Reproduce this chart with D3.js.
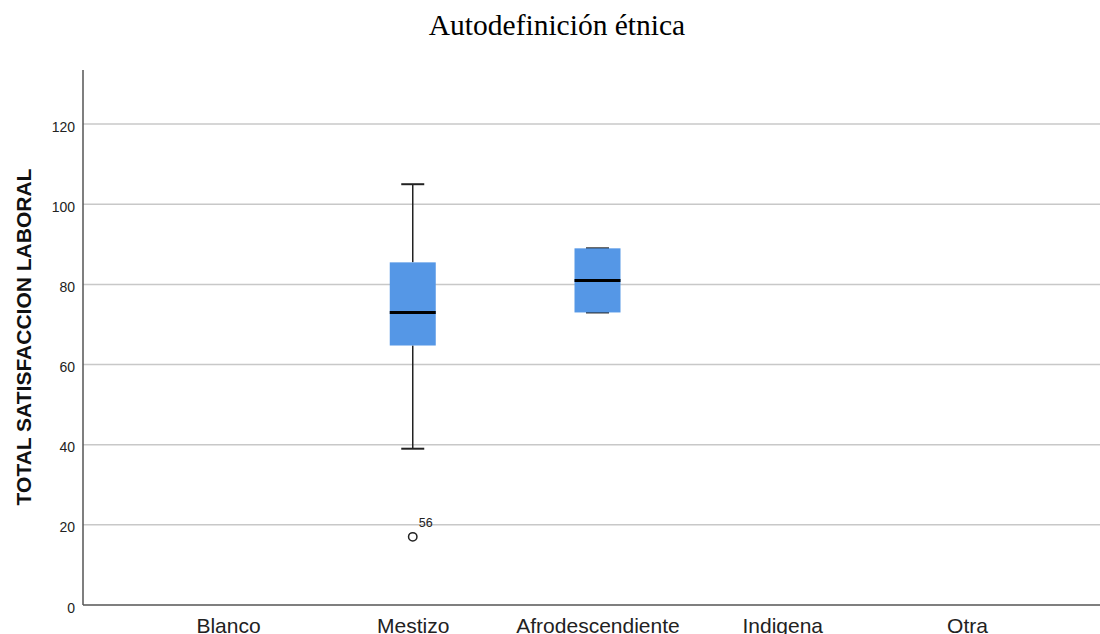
<!DOCTYPE html>
<html>
<head>
<meta charset="utf-8">
<script src="https://cdn.jsdelivr.net/npm/d3@7"></script>
<style>
  html, body { margin: 0; padding: 0; background: #fff; }
  svg { display: block; }
</style>
</head>
<body>
<svg id="chart" width="1100" height="634"></svg>
<script>
// Ethnic self-identification groups
const categories = ["Blanco", "Mestizo", "Afrodescendiente", "Indigena", "Otra"];
// Box statistics per group (null where the group has no data)
const whiskerLow  = [null, 39, 73, null, null];
const quartile1   = [null, 64.75, 73, null, null];
const medians     = [null, 73, 81, null, null];
const quartile3   = [null, 85.5, 89, null, null];
const whiskerHigh = [null, 105, 89, null, null];
// Outliers: group, value, case id
const outlierGroup = ["Mestizo"];
const outlierValue = [17];
const outlierCase  = ["56"];
const yTicks = [0, 20, 40, 60, 80, 100, 120];

(function drawChart() {
  const svg = d3.select("#chart");
  const plotLeft = 83, plotRight = 1100, plotTop = 70, plotBottom = 605;

  const y = d3.scaleLinear().domain([0, 133.5]).range([plotBottom, plotTop]);
  const x = d3.scalePoint().domain(categories).range([228, 967]);

  const boxW = 46, capW = 23;

  // Title
  svg.append("text")
    .attr("x", 557).attr("y", 34.5)
    .attr("text-anchor", "middle")
    .attr("font-family", "'Liberation Serif', 'Times New Roman', serif")
    .attr("font-size", 29.5)
    .attr("fill", "#000")
    .text("Autodefinición étnica");

  // Horizontal gridlines
  svg.append("g").selectAll("line")
    .data(yTicks.filter(t => t > 0))
    .join("line")
    .attr("x1", plotLeft).attr("x2", plotRight)
    .attr("y1", d => y(d)).attr("y2", d => y(d))
    .attr("stroke", "#c8c8c8").attr("stroke-width", 1.5);

  // Y axis
  const yAxis = svg.append("g")
    .attr("transform", `translate(${plotLeft},0)`)
    .call(d3.axisLeft(y).tickValues(yTicks).tickSize(0).tickPadding(8));
  yAxis.select(".domain").remove();
  yAxis.selectAll("text")
    .attr("font-family", "'Liberation Sans', Arial, sans-serif")
    .attr("font-size", 14)
    .attr("dy", "0.5em")
    .attr("fill", "#222");

  svg.append("line")
    .attr("x1", plotLeft).attr("x2", plotLeft)
    .attr("y1", plotTop).attr("y2", plotBottom)
    .attr("stroke", "#555").attr("stroke-width", 1.5);

  // X axis
  svg.append("line")
    .attr("x1", plotLeft).attr("x2", plotRight)
    .attr("y1", plotBottom).attr("y2", plotBottom)
    .attr("stroke", "#555").attr("stroke-width", 1.5);

  const xAxis = svg.append("g")
    .attr("transform", `translate(0,${plotBottom})`)
    .call(d3.axisBottom(x).tickSize(0).tickPadding(13));
  xAxis.select(".domain").remove();
  xAxis.selectAll("text")
    .attr("font-family", "'Liberation Sans', Arial, sans-serif")
    .attr("font-size", 21)
    .attr("fill", "#222");

  // Y label
  svg.append("text")
    .attr("transform", "translate(31,337) rotate(-90)")
    .attr("text-anchor", "middle")
    .attr("font-family", "'Liberation Sans', Arial, sans-serif")
    .attr("font-weight", "bold")
    .attr("font-size", 21)
    .attr("fill", "#111")
    .text("TOTAL SATISFACCION LABORAL");

  // Box plots
  const boxes = categories.map((c, i) => ({
    c, lo: whiskerLow[i], q1: quartile1[i], med: medians[i], q3: quartile3[i], hi: whiskerHigh[i]
  })).filter(d => d.med !== null);

  const g = svg.append("g");
  boxes.forEach(d => {
    const cx = x(d.c);
    // whisker stems
    g.append("line")
      .attr("x1", cx).attr("x2", cx)
      .attr("y1", y(d.hi)).attr("y2", y(d.q3))
      .attr("stroke", "#222").attr("stroke-width", 1.5);
    g.append("line")
      .attr("x1", cx).attr("x2", cx)
      .attr("y1", y(d.q1)).attr("y2", y(d.lo))
      .attr("stroke", "#222").attr("stroke-width", 1.5);
    // caps
    [d.hi, d.lo].forEach(v => {
      g.append("line")
        .attr("x1", cx - capW / 2).attr("x2", cx + capW / 2)
        .attr("y1", y(v)).attr("y2", y(v))
        .attr("stroke", "#222").attr("stroke-width", 2);
    });
    // box
    g.append("rect")
      .attr("x", cx - boxW / 2).attr("width", boxW)
      .attr("y", y(d.q3)).attr("height", y(d.q1) - y(d.q3))
      .attr("fill", "#5597e6");
    // median
    g.append("line")
      .attr("x1", cx - boxW / 2).attr("x2", cx + boxW / 2)
      .attr("y1", y(d.med)).attr("y2", y(d.med))
      .attr("stroke", "#000").attr("stroke-width", 3);
  });

  // Outliers
  outlierValue.forEach((v, i) => {
    const cx = x(outlierGroup[i]);
    svg.append("circle")
      .attr("cx", cx).attr("cy", y(v)).attr("r", 4.2)
      .attr("fill", "none").attr("stroke", "#222").attr("stroke-width", 1.5);
    svg.append("text")
      .attr("x", cx + 6).attr("y", y(v) - 10)
      .attr("font-family", "'Liberation Sans', Arial, sans-serif")
      .attr("font-size", 12.5)
      .attr("fill", "#222")
      .text(outlierCase[i]);
  });
})();
</script>
</body>
</html>
